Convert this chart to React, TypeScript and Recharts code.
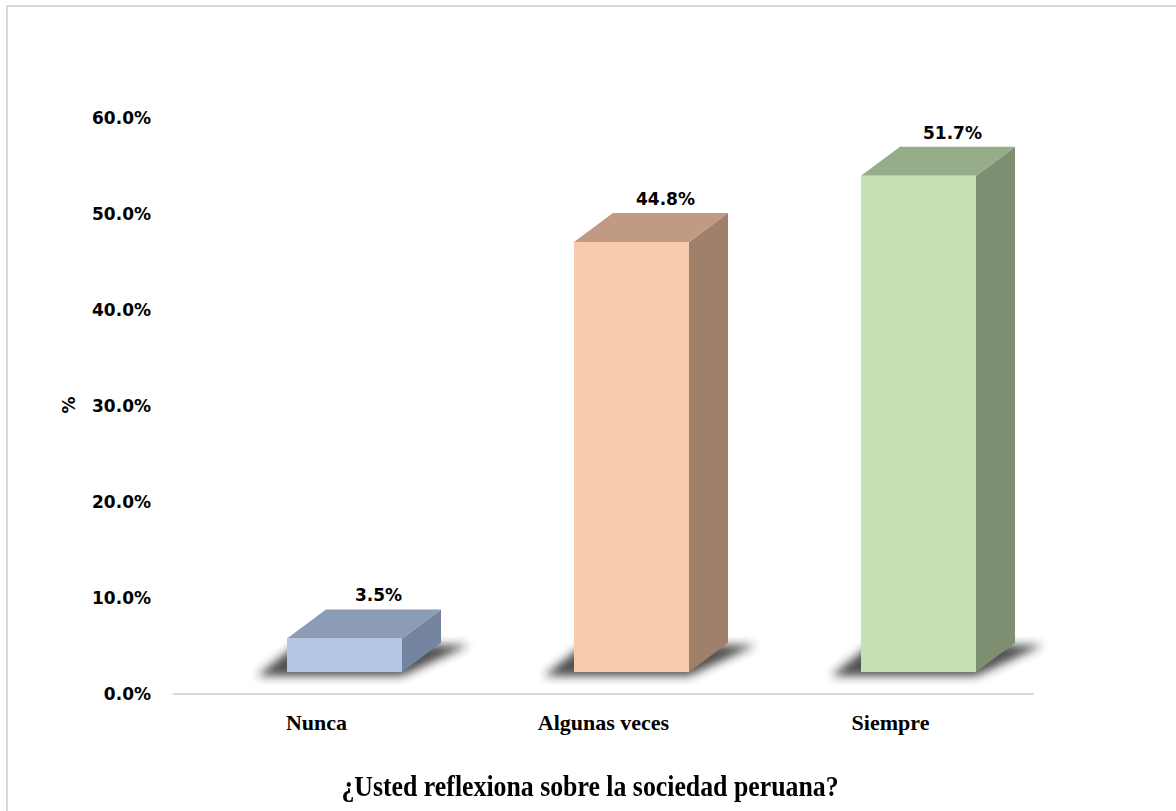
import React from 'react';
import { BarChart, Bar, XAxis, YAxis, LabelList } from 'recharts';

const categories = ['Nunca', 'Algunas veces', 'Siempre'];
const values = [3.5, 44.8, 51.7];
const yTicks = [0, 10, 20, 30, 40, 50, 60];

const frontColors = ['#B4C7E7', '#F8CBAD', '#C5E0B4'];
const topColors = ['#8C9CB6', '#C09A83', '#97AC89'];
const sideColors = ['#75859F', '#A0806B', '#7E8F72'];

const data = categories.map((name, i) => ({ name, value: values[i] }));

// 3D look: front face is pushed right and lifted off the axis, depth goes up-right
const SHIFT_X = 28;
const LIFT = 22;
const DX = 39;
const DY = 29;

function Bar3D(props: any) {
  const { x, y, width, height, payload } = props;
  const i = categories.indexOf(payload.name);
  const fl = x + SHIFT_X;
  const fr = fl + width;
  const b = y + height - LIFT;
  const t = y - LIFT;
  const fid = `shadow-${i}`;
  return (
    <g>
      <defs>
        <filter id={fid} x="-50%" y="-50%" width="200%" height="200%">
          <feGaussianBlur stdDeviation="5" />
        </filter>
      </defs>
      <polygon
        points={`${fl - 30},${b + 4} ${fr},${b + 4} ${fr + DX + 28},${b - DY + 2} ${fl + DX - 30},${b - DY + 2}`}
        fill="#222"
        opacity={0.8}
        filter={`url(#${fid})`}
      />
      <polygon
        points={`${fr},${t} ${fr + DX},${t - DY} ${fr + DX},${b - DY} ${fr},${b}`}
        fill={sideColors[i]}
      />
      <polygon
        points={`${fl},${t} ${fr},${t} ${fr + DX},${t - DY} ${fl + DX},${t - DY}`}
        fill={topColors[i]}
      />
      <rect x={fl} y={t} width={width} height={b - t} fill={frontColors[i]} />
    </g>
  );
}

function ValueLabel(props: any) {
  const { x, y, width, value } = props;
  const cx = x + SHIFT_X + width / 2 + 34;
  const cy = y - LIFT - DY - 14;
  return (
    <text
      x={cx}
      y={cy + 6}
      textAnchor="middle"
      fontFamily="'DejaVu Sans', sans-serif"
      fontWeight="bold"
      fontSize={17}
      fill="#000"
    >
      {`${value.toFixed(1)}%`}
    </text>
  );
}

function YLabel() {
  return (
    <text
      x={0}
      y={0}
      transform="translate(75, 405) rotate(-90)"
      textAnchor="middle"
      fontFamily="'DejaVu Sans', sans-serif"
      fontWeight="bold"
      fontSize={17}
      fill="#000"
    >
      %
    </text>
  );
}

export default function App() {
  return (
    <div style={{ position: 'absolute', left: 0, top: 0, width: 1176, height: 811, background: '#fff', overflow: 'hidden' }}>
      <div
        style={{
          position: 'absolute',
          left: 6,
          top: 5,
          width: 1200,
          height: 900,
          border: '2px solid #d9d9d9',
          boxSizing: 'border-box',
        }}
      />
      <div style={{ position: 'absolute', left: 0, top: 0 }}>
        <BarChart
          width={1176}
          height={811}
          data={data}
          margin={{ top: 118, right: 142, bottom: 77, left: 50 }}
          barSize={115}
        >
          <XAxis
            dataKey="name"
            tickLine={false}
            tickSize={0}
            tickMargin={20}
            height={40}
            axisLine={{ stroke: '#d9d9d9', strokeWidth: 2 }}
            tick={{ fontFamily: "'Liberation Serif', 'Times New Roman', serif", fontWeight: 'bold', fontSize: 22, fill: '#000' }}
          />
          <YAxis
            width={123}
            domain={[0, 60]}
            ticks={yTicks}
            axisLine={false}
            tickLine={false}
            tickSize={0}
            tickMargin={22}
            tickFormatter={(v: number) => `${v.toFixed(1)}%`}
            tick={{ fontFamily: "'DejaVu Sans', sans-serif", fontWeight: 'bold', fontSize: 17, fill: '#000' }}
            label={{ content: () => <YLabel /> }}
          />
          <Bar dataKey="value" shape={<Bar3D />} isAnimationActive={false}>
            <LabelList dataKey="value" content={<ValueLabel />} />
          </Bar>
        </BarChart>
      </div>
      <div
        style={{
          position: 'absolute',
          left: 0,
          width: 1180,
          top: 768,
          textAlign: 'center',
          fontFamily: "'Liberation Serif', 'Times New Roman', serif",
          fontWeight: 'bold',
          fontSize: 30,
          lineHeight: '36px',
          color: '#000',
          transform: 'scaleX(0.86)',
        }}
      >
        ¿Usted reflexiona sobre la sociedad peruana?
      </div>
    </div>
  );
}
